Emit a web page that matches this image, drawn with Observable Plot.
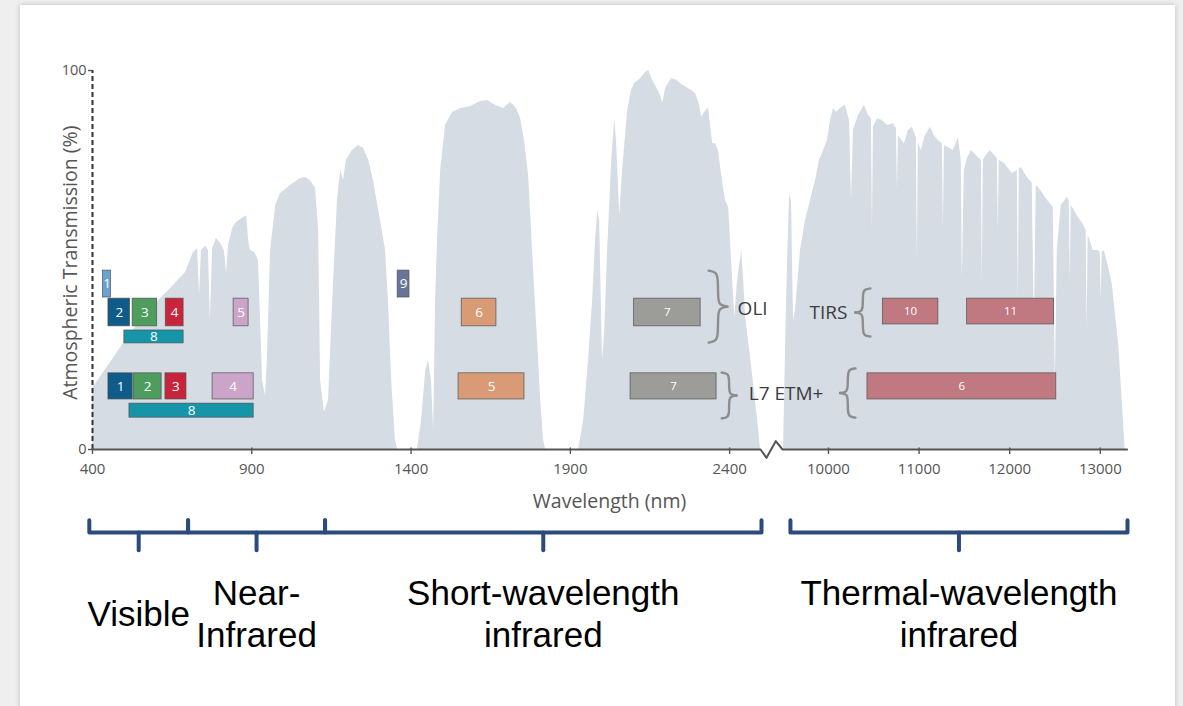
<!DOCTYPE html>
<html><head><meta charset="utf-8">
<script src="https://cdn.jsdelivr.net/npm/d3@7"></script>
<script src="https://cdn.jsdelivr.net/npm/@observablehq/plot@0.6"></script>
<style>
html,body{margin:0;padding:0;background:#efefef;width:1183px;height:706px;overflow:hidden;}
#card{position:absolute;left:20px;top:5px;width:1155px;height:730px;background:#fff;box-shadow:0 0 5px rgba(0,0,0,0.22);}
#chart{position:absolute;left:0;top:0;}
</style></head><body><div id="card"></div><div id="chart"></div>
<script>
// ---------- DATA ----------
// Atmospheric transmission, visible to short-wave infrared (nm, %)
const opticalNm = [
 400,457,519,582,645,692,717,730,736,742,
 755,764,770,777,789,802,814,821,827,840,
 852,865,884,890,896,909,921,934,943,949,
 959,975,990,1022,1053,1069,1084,1100,1110,1116,
 1128,1141,1150,1157,1169,1179,1188,1197,1216,1235,
 1251,1267,1282,1304,1320,1329,1339,1351,1358,1420,
 1433,1446,1455,1464,1471,1477,1483,1493,1508,1530,
 1555,1587,1618,1640,1665,1690,1712,1731,1744,1756,
 1769,1778,1788,1797,1807,1816,1822,1926,1942,1957,
 1970,1979,1986,1992,2001,2008,2017,2030,2039,2045,
 2055,2064,2080,2092,2102,2121,2136,2146,2158,2171,
 2183,2190,2199,2218,2234,2249,2265,2281,2293,2306,
 2312,2321,2334,2340,2347,2356,2365,2375,2387,2397,
 2406,2416,2425,2438,2444,2450,2463,2475,2488,2497];
const opticalT = [
 16.1,23.0,30.6,37.2,42.5,46.7,52.0,53.0,40.6,52.5,
 53.6,52.5,34.0,53.0,55.7,54.4,52.5,46.7,53.8,58.3,
 59.9,60.7,61.7,55.1,52.5,52.0,49.9,18.2,14.2,23.5,
 52.5,64.4,67.5,69.7,71.5,71.8,71.0,68.9,57.8,18.2,
 9.8,12.9,31.4,44.6,65.7,73.6,71.0,76.3,78.9,80.2,
 79.4,76.3,71.0,60.4,52.5,39.3,18.2,2.4,0,0,
 7.7,20.8,23.5,18.2,5.0,39.3,55.1,73.6,85.5,88.9,
 90.0,90.5,91.8,92.1,90.8,90.0,91.6,90.0,87.3,81.5,
 72.3,57.8,41.9,28.8,12.9,2.4,0,0,7.7,23.5,
 39.3,55.1,63.1,60.4,23.5,31.4,52.5,76.3,87.3,81.5,
 61.7,73.6,89.4,94.7,96.6,97.9,99.5,100,97.4,95.5,
 93.4,91.3,95.3,97.9,97.4,96.3,95.5,94.7,93.9,90.8,
 87.6,88.9,90.2,85.5,80.7,80.7,78.9,72.3,65.7,63.9,
 49.9,34.8,44.6,52.5,44.6,34.8,26.1,17.4,7.7,0];
// Atmospheric transmission, thermal infrared (nm, %)
const thermalNm = [
 9504,9537,9570,9592,9614,9636,9691,9746,9802,9857,
 9901,9945,9989,10022,10055,10088,10132,10187,10232,10254,
 10276,10331,10397,10441,10474,10485,10496,10540,10595,10650,
 10717,10750,10761,10772,10838,10882,10926,10970,10981,10992,
 11025,11069,11125,11169,11213,11257,11268,11279,11378,11433,
 11466,11477,11499,11532,11577,11632,11687,11698,11709,11742,
 11786,11863,11874,11885,11940,11985,12029,12084,12095,12106,
 12128,12194,12249,12271,12293,12315,12359,12392,12437,12481,
 12503,12525,12569,12635,12657,12668,12679,12701,12756,12800,
 12844,12855,12866,12888,12921,12977,12999,13010,13021,13043,
 13087,13131,13175,13208,13241,13274];
const thermalT = [
 0,39.3,67.0,65.7,34.0,36.7,52.5,60.4,65.7,71.0,
 76.3,78.9,81.5,86.8,90.0,88.9,90.0,90.8,86.8,65.7,
 84.2,88.1,90.8,88.1,87.3,57.8,85.0,87.3,86.8,85.5,
 86.0,84.7,68.3,82.8,80.7,84.2,85.0,82.1,49.9,81.0,
 78.9,82.8,85.0,82.8,81.5,80.7,57.8,80.2,78.9,82.3,
 76.3,44.6,73.6,76.8,78.9,77.6,76.3,43.8,76.3,77.6,
 78.9,76.8,57.8,76.3,75.5,74.1,72.8,73.6,39.3,74.1,
 74.4,71.8,70.4,31.4,69.7,69.1,67.8,66.5,65.2,63.9,
 17.4,52.5,64.4,66.5,65.7,44.6,64.4,63.6,61.2,59.9,
 57.8,31.4,56.5,55.1,52.5,52.5,52.0,39.3,52.0,52.5,
 48.5,43.8,34.0,26.1,12.9,0];

// Landsat bands
const bandSensor = ["OLI","OLI","OLI","OLI","OLI","OLI","OLI","OLI","OLI","TIRS","TIRS",
                    "ETM+","ETM+","ETM+","ETM+","ETM+","ETM+","ETM+","ETM+"];
const bandLabel  = ["1","2","3","4","5","8","9","6","7","10","11",
                    "1","2","3","4","8","5","7","6"];
const bandStart  = [433,450,526,630,843,500,1358,1559,2100,10600,11530,
                    450,529,629,777,516,1549,2089,10430];
const bandEnd    = [458,518,603,686,890,686,1395,1668,2309,11213,12490,
                    526,617,695,906,906,1756,2359,12514];
const bandTier   = ["upper","main","main","main","main","pan","upper","main","main","main","main",
                    "main","main","main","main","pan","main","main","main"];
const bandGroup  = ["coastal","blue","green","red","nir","pan","cirrus","swir1","swir2","tir","tir",
                    "blue","green","red","nir","pan","swir1","swir2","tir"];

// Instrument labels and braces
const sensorText = ["OLI","L7 ETM+","TIRS"];
const sensorX    = [2425, 2460, 10209];
const sensorY    = [37.2, 14.8, 36.1];
const sensorAnchor = ["start","start","end"];
const braceX   = [2334, 2375, 10463, 10298];
const braceLo  = [28.2, 8.2, 29.8, 8.4];
const braceHi  = [47.2, 20.3, 42.5, 21.4];
const braceDir = [1, 1, -1, -1];

// Spectral regions
const regionLabel = ["Visible","Near-\nInfrared","Short-wavelength\ninfrared","Thermal-wavelength\ninfrared"];
const regionFrom  = [390, 700, 1130, 9580];
const regionTo    = [700, 1130, 2500, 13300];

// Axes
const xTicks = [400, 900, 1400, 1900, 2400, 10000, 11000, 12000, 13000];
const yTicks = [0, 100];
const axisBreak = [2497, 9493];

// ---------- LAYOUT / STYLE ----------
const xDomain = [400, 2522, 9338, 13300], xRange = [92, 768, 768, 1127];
const yDomain = [0, 100], yRange = [449, 70];
const tierRange = {
  "OLI|upper": [40.1, 47.2], "OLI|main": [32.5, 39.8], "OLI|pan": [28.0, 31.4],
  "TIRS|main": [33.0, 39.8], "ETM+|main": [13.2, 20.1], "ETM+|pan": [8.4, 12.1]
};
const groupColor = {coastal:"#6aa3cf", blue:"#0f5b8a", green:"#4e9d5f", red:"#c8243c", nir:"#caa4c9",
  pan:"#1795a8", cirrus:"#69749a", swir1:"#d89b76", swir2:"#9c9d99", tir:"#c07981"};
const smallLabel = new Set(["swir2","tir"]);
const FONT = "Open Sans, Noto Sans, sans-serif";
const fill = "#d5dce3";

const xs = d3.scaleLinear().domain(xDomain).range(xRange);
const ys = d3.scaleLinear().domain(yDomain).range(yRange);

const optical = opticalNm.map((x, i) => ({x, y: opticalT[i]}));
const thermal = thermalNm.map((x, i) => ({x, y: thermalT[i]}));
const bands = bandLabel.map((label, i) => {
  const [y1, y2] = tierRange[bandSensor[i] + "|" + bandTier[i]];
  return {label, x1: bandStart[i], x2: bandEnd[i], y1, y2, xm: (bandStart[i] + bandEnd[i]) / 2,
          ym: (y1 + y2) / 2, color: groupColor[bandGroup[i]], small: smallLabel.has(bandGroup[i])};
});

// braces
const braceShape = [[0,0],[0.42,0.02],[0.5,0.12],[0.5,0.38],[0.56,0.48],[1,0.5]];
const bracePts = [];
braceX.forEach((bx, i) => {
  const px0 = xs(bx), top = ys(braceHi[i]), bot = ys(braceLo[i]), h = bot - top, w = 8 + 0.15 * h;
  [0, 1].forEach(half => {
    braceShape.forEach(([u, v]) => {
      const vv = half ? 1 - v : v;
      bracePts.push({id: i * 2 + half, x: xs.invert(px0 + braceDir[i] * u * w), y: ys.invert(top + vv * h)});
    });
  });
});

// x axis with break
const p0 = xs(axisBreak[0]), p3 = xs(axisBreak[1]);
const zig = 2.2;
const axisPts = [
  {x: xDomain[0], y: 0}, {x: axisBreak[0], y: 0},
  {x: xs.invert(p0 + (p3 - p0) * 0.27), y: -zig},
  {x: xs.invert(p0 + (p3 - p0) * 0.69), y: zig},
  {x: axisBreak[1], y: 0}, {x: 13296, y: 0}
];

// region brackets
const bTop = -18.7, bLine = -21.9, bTick = -26.6, labelY = -43;
const regions = regionLabel.map((label, i) => ({label, from: regionFrom[i], to: regionTo[i],
  mid: xs.invert((xs(regionFrom[i]) + xs(regionTo[i])) / 2)}));
const bracketPts = [];
regions.forEach((r, i) => {
  bracketPts.push({id: "b" + i, x: r.from, y: bTop}, {id: "b" + i, x: r.from, y: bLine},
                  {id: "b" + i, x: r.to, y: bLine}, {id: "b" + i, x: r.to, y: bTop});
  bracketPts.push({id: "t" + i, x: r.mid, y: bLine}, {id: "t" + i, x: r.mid, y: bTick});
});

const sensors = sensorText.map((t, i) => ({t, x: sensorX[i], y: sensorY[i], a: sensorAnchor[i]}));

const chart = Plot.plot({
  width: 1183, height: 706,
  style: {background: "transparent", fontFamily: FONT},
  x: {type: "linear", domain: xDomain, range: xRange, axis: null},
  y: {type: "linear", domain: yDomain, range: yRange, axis: null},
  color: {type: "identity"},
  marks: [
    Plot.areaY(optical, {x: "x", y: "y", fill, curve: "linear"}),
    Plot.areaY(thermal, {x: "x", y: "y", fill, curve: "linear"}),
    Plot.rect(bands, {x1: "x1", x2: "x2", y1: "y1", y2: "y2", fill: "color", stroke: "#505050", strokeWidth: 0.8, strokeOpacity: 0.85}),
    Plot.text(bands.filter(d => !d.small), {x: "xm", y: "ym", text: "label", fill: "white", fontSize: 13.5, fontFamily: FONT}),
    Plot.text(bands.filter(d => d.small), {x: "xm", y: "ym", text: "label", fill: "white", fontSize: 11.5, fontFamily: FONT}),
    Plot.line(bracePts, {x: "x", y: "y", z: "id", stroke: "#8d8d8d", strokeWidth: 2.4, curve: "basis"}),
    Plot.text(sensors.filter(d => d.a === "start"),
      {x: "x", y: "y", text: "t", textAnchor: "start", fontSize: 19, fill: "#3c3c3c", fontFamily: FONT}),
    Plot.text(sensors.filter(d => d.a === "end"),
      {x: "x", y: "y", text: "t", textAnchor: "end", fontSize: 19, fill: "#3c3c3c", fontFamily: FONT}),
    // axes
    Plot.ruleX([xDomain[0]], {y1: 0, y2: 100, stroke: "#333", strokeWidth: 2, strokeDasharray: "5,3"}),
    Plot.line(axisPts, {x: "x", y: "y", stroke: "#555", strokeWidth: 2}),
    Plot.ruleX(xTicks, {y1: 0.4, y2: -1.3, stroke: "#555", strokeWidth: 1.4}),
    Plot.ruleY(yTicks, {x1: xs.invert(88), x2: xDomain[0], stroke: "#555", strokeWidth: 1.4}),
    Plot.text(xTicks, {x: d => d, y: 0, dy: 20, text: d => String(d), fontSize: 15, fill: "#555", fontFamily: FONT}),
    Plot.text(yTicks, {x: xDomain[0], y: d => d, dx: -6, textAnchor: "end", text: d => String(d), fontSize: 14.5, fill: "#555", fontFamily: FONT}),
    Plot.text(["Atmospheric Transmission (%)"], {x: xDomain[0], dx: -22, y: 49.3, rotate: -90, fontSize: 19.5, fill: "#555", fontFamily: FONT}),
    Plot.text(["Wavelength (nm)"], {x: 2023, y: 0, dy: 52, fontSize: 19.5, fill: "#555", fontFamily: FONT}),
    // region brackets
    Plot.line(bracketPts, {x: "x", y: "y", z: "id", stroke: "#2c4a7d", strokeWidth: 4, strokeLinejoin: "round", strokeLinecap: "round"}),
    Plot.text(regions, {x: "mid", y: labelY, text: "label", fontSize: 35, lineHeight: 1.2, fill: "#000", fontFamily: "Liberation Sans, Arial, sans-serif"})
  ]
});
document.getElementById("chart").appendChild(chart);
</script></body></html>
